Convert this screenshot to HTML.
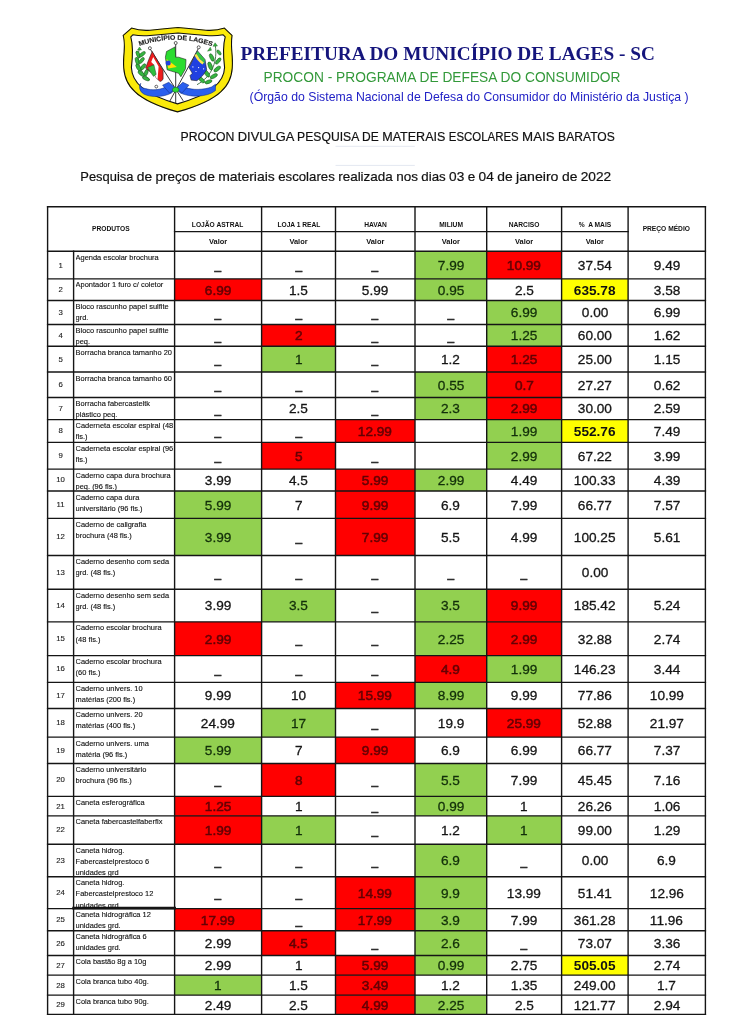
<!DOCTYPE html>
<html lang="pt-BR">
<head>
<meta charset="utf-8">
<title>PROCON - Pesquisa de preços de materiais escolares</title>
<style>
html,body{margin:0;padding:0;background:#fff}
body{width:741px;height:1024px;position:relative;overflow:hidden;font-family:"Liberation Sans",sans-serif;color:#1a1a1a}
svg{position:absolute;left:0;top:0;overflow:visible}
.hd text{font-family:"Liberation Sans",sans-serif}
.hd .t1{font-family:"Liberation Serif",serif;font-weight:bold;font-size:18.4px;fill:#15157c}
.hd .t2{font-size:13.8px;fill:#33993a}
.hd .t3{font-size:12.6px;fill:#2222c6}
.hd .t4{font-size:13.2px;fill:#111;stroke:#111;stroke-width:.2px}
.hd .t5{font-size:13.4px;fill:#111;stroke:#111;stroke-width:.2px}
.c{position:absolute;display:flex;align-items:center;justify-content:center;white-space:nowrap;line-height:1}
.r{position:absolute;left:0;width:741px}
.r .c{top:0.65px;height:100%}
.h{font-weight:bold;font-size:7.4px;color:#111}
.h span{display:inline-block;transform:scaleX(.9)}
.v{font-weight:bold;font-size:7.45px;color:#111}
.n{font-size:7.8px;left:47.6px;width:26px;color:#222;-webkit-text-stroke:.12px}
.p{position:absolute;left:75.6px;top:0.6px;width:98px;bottom:0.6px;overflow:hidden;font-size:7.45px;line-height:11.1px;white-space:nowrap;color:#111;-webkit-text-stroke:.12px}
.d{font-size:13.5px;color:#151515;-webkit-text-stroke:.3px}
.d span{display:inline-block;transform:scaleX(1.01)}
.r .n{top:0.35px}
.r .d.u{top:0;-webkit-text-stroke:.45px}
.d.u span{transform:scaleX(.88)}
.d.r{color:#640004;-webkit-text-stroke:.55px}
.d.g{color:#13300a}
.d.y{font-weight:bold;color:#111;-webkit-text-stroke:0}
.k0{left:174.6px;width:87px}
.k1{left:261.6px;width:73.9px}
.k2{left:335.5px;width:79.5px}
.k3{left:415px;width:71.7px}
.k4{left:486.7px;width:74.9px}
.k5{left:561.6px;width:66.5px}
.k6{left:628.1px;width:77.3px}
</style>
</head>
<body>
<!-- grid + coloured cells -->
<svg width="741" height="1024" viewBox="0 0 741 1024">
<g stroke="#e4e8f1" stroke-width="1"><line x1="335.5" y1="146.3" x2="414.8" y2="146.3"/><line x1="335.5" y1="165.4" x2="414.8" y2="165.4"/></g>
<rect x="415" y="251.3" width="71.7" height="27.6" fill="#92d050"/>
<rect x="486.7" y="251.3" width="74.9" height="27.6" fill="#ff0000"/>
<rect x="174.6" y="278.9" width="87" height="21.6" fill="#ff0000"/>
<rect x="415" y="278.9" width="71.7" height="21.6" fill="#92d050"/>
<rect x="561.6" y="278.9" width="66.5" height="21.6" fill="#ffff00"/>
<rect x="486.7" y="300.5" width="74.9" height="24" fill="#92d050"/>
<rect x="261.6" y="324.5" width="73.9" height="21.8" fill="#ff0000"/>
<rect x="486.7" y="324.5" width="74.9" height="21.8" fill="#92d050"/>
<rect x="261.6" y="346.3" width="73.9" height="25.7" fill="#92d050"/>
<rect x="486.7" y="346.3" width="74.9" height="25.7" fill="#ff0000"/>
<rect x="415" y="372" width="71.7" height="25.5" fill="#92d050"/>
<rect x="486.7" y="372" width="74.9" height="25.5" fill="#ff0000"/>
<rect x="415" y="397.5" width="71.7" height="22.1" fill="#92d050"/>
<rect x="486.7" y="397.5" width="74.9" height="22.1" fill="#ff0000"/>
<rect x="335.5" y="419.6" width="79.5" height="22.8" fill="#ff0000"/>
<rect x="486.7" y="419.6" width="74.9" height="22.8" fill="#92d050"/>
<rect x="561.6" y="419.6" width="66.5" height="22.8" fill="#ffff00"/>
<rect x="261.6" y="442.4" width="73.9" height="26.7" fill="#ff0000"/>
<rect x="486.7" y="442.4" width="74.9" height="26.7" fill="#92d050"/>
<rect x="335.5" y="469.1" width="79.5" height="21.9" fill="#ff0000"/>
<rect x="415" y="469.1" width="71.7" height="21.9" fill="#92d050"/>
<rect x="174.6" y="491" width="87" height="27.4" fill="#92d050"/>
<rect x="335.5" y="491" width="79.5" height="27.4" fill="#ff0000"/>
<rect x="174.6" y="518.4" width="87" height="37.1" fill="#92d050"/>
<rect x="335.5" y="518.4" width="79.5" height="37.1" fill="#ff0000"/>
<rect x="261.6" y="589.2" width="73.9" height="32.65" fill="#92d050"/>
<rect x="415" y="589.2" width="71.7" height="32.65" fill="#92d050"/>
<rect x="486.7" y="589.2" width="74.9" height="32.65" fill="#ff0000"/>
<rect x="174.6" y="621.85" width="87" height="33.75" fill="#ff0000"/>
<rect x="415" y="621.85" width="71.7" height="33.75" fill="#92d050"/>
<rect x="486.7" y="621.85" width="74.9" height="33.75" fill="#ff0000"/>
<rect x="415" y="655.6" width="71.7" height="26.8" fill="#ff0000"/>
<rect x="486.7" y="655.6" width="74.9" height="26.8" fill="#92d050"/>
<rect x="335.5" y="682.4" width="79.5" height="26.1" fill="#ff0000"/>
<rect x="415" y="682.4" width="71.7" height="26.1" fill="#92d050"/>
<rect x="261.6" y="708.5" width="73.9" height="28.6" fill="#92d050"/>
<rect x="486.7" y="708.5" width="74.9" height="28.6" fill="#ff0000"/>
<rect x="174.6" y="737.1" width="87" height="26.35" fill="#92d050"/>
<rect x="335.5" y="737.1" width="79.5" height="26.35" fill="#ff0000"/>
<rect x="261.6" y="763.45" width="73.9" height="32.95" fill="#ff0000"/>
<rect x="415" y="763.45" width="71.7" height="32.95" fill="#92d050"/>
<rect x="174.6" y="796.4" width="87" height="19.45" fill="#ff0000"/>
<rect x="415" y="796.4" width="71.7" height="19.45" fill="#92d050"/>
<rect x="174.6" y="815.85" width="87" height="28.35" fill="#ff0000"/>
<rect x="261.6" y="815.85" width="73.9" height="28.35" fill="#92d050"/>
<rect x="486.7" y="815.85" width="74.9" height="28.35" fill="#92d050"/>
<rect x="415" y="844.2" width="71.7" height="32.55" fill="#92d050"/>
<rect x="335.5" y="876.75" width="79.5" height="31.85" fill="#ff0000"/>
<rect x="415" y="876.75" width="71.7" height="31.85" fill="#92d050"/>
<rect x="174.6" y="908.6" width="87" height="22.1" fill="#ff0000"/>
<rect x="335.5" y="908.6" width="79.5" height="22.1" fill="#ff0000"/>
<rect x="415" y="908.6" width="71.7" height="22.1" fill="#92d050"/>
<rect x="261.6" y="930.7" width="73.9" height="24.8" fill="#ff0000"/>
<rect x="415" y="930.7" width="71.7" height="24.8" fill="#92d050"/>
<rect x="335.5" y="955.5" width="79.5" height="19.65" fill="#ff0000"/>
<rect x="415" y="955.5" width="71.7" height="19.65" fill="#92d050"/>
<rect x="561.6" y="955.5" width="66.5" height="19.65" fill="#ffff00"/>
<rect x="174.6" y="975.15" width="87" height="20" fill="#92d050"/>
<rect x="335.5" y="975.15" width="79.5" height="20" fill="#ff0000"/>
<rect x="335.5" y="995.15" width="79.5" height="19.25" fill="#ff0000"/>
<rect x="415" y="995.15" width="71.7" height="19.25" fill="#92d050"/>
<g stroke="#151515" stroke-linecap="square">
<line x1="47.6" y1="206.8" x2="47.6" y2="1014.4" stroke-width="1.4"/>
<line x1="73.6" y1="251.3" x2="73.6" y2="1014.4" stroke-width="1.4"/>
<line x1="174.6" y1="206.8" x2="174.6" y2="1014.4" stroke-width="1.4"/>
<line x1="261.6" y1="206.8" x2="261.6" y2="1014.4" stroke-width="1.4"/>
<line x1="335.5" y1="206.8" x2="335.5" y2="1014.4" stroke-width="1.4"/>
<line x1="415" y1="206.8" x2="415" y2="1014.4" stroke-width="1.4"/>
<line x1="486.7" y1="206.8" x2="486.7" y2="1014.4" stroke-width="1.4"/>
<line x1="561.6" y1="206.8" x2="561.6" y2="1014.4" stroke-width="1.4"/>
<line x1="628.1" y1="206.8" x2="628.1" y2="1014.4" stroke-width="1.4"/>
<line x1="705.4" y1="206.8" x2="705.4" y2="1014.4" stroke-width="1.4"/>
<line x1="47.6" y1="206.8" x2="705.4" y2="206.8" stroke-width="1.4"/>
<line x1="174.6" y1="231.6" x2="628.1" y2="231.6" stroke-width="1.4"/>
<line x1="47.6" y1="251.3" x2="705.4" y2="251.3" stroke-width="1.4"/>
<line x1="47.6" y1="278.9" x2="705.4" y2="278.9" stroke-width="1.4"/>
<line x1="47.6" y1="300.5" x2="705.4" y2="300.5" stroke-width="1.4"/>
<line x1="47.6" y1="324.5" x2="705.4" y2="324.5" stroke-width="1.4"/>
<line x1="47.6" y1="346.3" x2="705.4" y2="346.3" stroke-width="1.4"/>
<line x1="47.6" y1="372" x2="705.4" y2="372" stroke-width="1.4"/>
<line x1="47.6" y1="397.5" x2="705.4" y2="397.5" stroke-width="1.4"/>
<line x1="47.6" y1="419.6" x2="705.4" y2="419.6" stroke-width="1.4"/>
<line x1="47.6" y1="442.4" x2="705.4" y2="442.4" stroke-width="1.4"/>
<line x1="47.6" y1="469.1" x2="705.4" y2="469.1" stroke-width="1.4"/>
<line x1="47.6" y1="491" x2="705.4" y2="491" stroke-width="1.4"/>
<line x1="47.6" y1="518.4" x2="705.4" y2="518.4" stroke-width="1.4"/>
<line x1="47.6" y1="555.5" x2="705.4" y2="555.5" stroke-width="1.4"/>
<line x1="47.6" y1="589.2" x2="705.4" y2="589.2" stroke-width="1.4"/>
<line x1="47.6" y1="621.85" x2="705.4" y2="621.85" stroke-width="1.4"/>
<line x1="47.6" y1="655.6" x2="705.4" y2="655.6" stroke-width="1.4"/>
<line x1="47.6" y1="682.4" x2="705.4" y2="682.4" stroke-width="1.4"/>
<line x1="47.6" y1="708.5" x2="705.4" y2="708.5" stroke-width="1.4"/>
<line x1="47.6" y1="737.1" x2="705.4" y2="737.1" stroke-width="1.4"/>
<line x1="47.6" y1="763.45" x2="705.4" y2="763.45" stroke-width="1.4"/>
<line x1="47.6" y1="796.4" x2="705.4" y2="796.4" stroke-width="1.4"/>
<line x1="47.6" y1="815.85" x2="705.4" y2="815.85" stroke-width="1.4"/>
<line x1="47.6" y1="844.2" x2="705.4" y2="844.2" stroke-width="1.4"/>
<line x1="47.6" y1="876.75" x2="705.4" y2="876.75" stroke-width="1.4"/>
<line x1="47.6" y1="908.6" x2="705.4" y2="908.6" stroke-width="1.4"/>
<line x1="47.6" y1="930.7" x2="705.4" y2="930.7" stroke-width="1.4"/>
<line x1="47.6" y1="955.5" x2="705.4" y2="955.5" stroke-width="1.4"/>
<line x1="47.6" y1="975.15" x2="705.4" y2="975.15" stroke-width="1.4"/>
<line x1="47.6" y1="995.15" x2="705.4" y2="995.15" stroke-width="1.4"/>
<line x1="47.6" y1="1014.4" x2="705.4" y2="1014.4" stroke-width="1.4"/>
<line x1="73.6" y1="908.1" x2="174.6" y2="908.1" stroke-width="2.7"/>
</g>
</svg>
<!-- logo -->
<svg width="741" height="130" viewBox="0 0 741 130">
<defs><path id="arc" d="M139.4,46 Q175.3,33.4 211.2,46"/><path id="sho" d="M131.5,27.5 Q140.5,30.5 150,29.7 Q165,28 178,26.9 Q191,28 206,29.7 Q215.5,30.5 224.5,27.5 L232.6,35.2 C231.6,42 232.2,48 232.4,52 C233,58 233.2,62 232.8,68 C231.5,85 222,100.5 177.5,112.4 C134,100.5 124.5,85 123.2,68 C122.8,62 123,58 123.6,52 C123.8,48 124.4,42 122.6,35.2 Z"/><clipPath id="shc"><use href="#sho"/></clipPath></defs>
<g clip-path="url(#shc)"><use href="#sho" fill="#fbea0a" stroke="#111" stroke-width="2.2"/></g>
<path d="M132.8,34.8 Q141,36.3 150,35.5 Q165,34 178,33 Q191,34 206,35.5 Q215,36.3 223.2,34.8 L225.2,36.8 C223,45 223.4,58 224.6,67.6 C224,82 212,94 177.5,103.9 C143,94 132,82 131.4,67.6 C132.6,58 133,45 130.8,36.8 Z" fill="#fff" stroke="#111" stroke-width="1.1" stroke-linejoin="round"/>
<text font-family="Liberation Sans, sans-serif" font-weight="bold" font-size="6.5" fill="#222" stroke="#222" stroke-width=".15"><textPath href="#arc" textLength="74" lengthAdjust="spacingAndGlyphs">MUNICÍPIO DE LAGES</textPath></text>
<!-- laurel branches -->
<g fill="#35b53f" stroke="#1d5a22" stroke-width=".55">
<path d="M139.6,48 C136,60 139,72 150,80" fill="none" stroke-width=".8"/>
<path d="M137.5,50 l4,0 l-2,-3z" stroke-width=".4"/>
<ellipse cx="138.2" cy="54.5" rx="1.68" ry="3.78" transform="rotate(-25 138.2 54.5)"/><ellipse cx="142.3" cy="54.2" rx="1.68" ry="3.66" transform="rotate(50 142.3 54.2)"/>
<ellipse cx="137.2" cy="61" rx="1.80" ry="3.90" transform="rotate(-15 137.2 61)"/><ellipse cx="141.6" cy="60.5" rx="1.68" ry="3.66" transform="rotate(40 141.6 60.5)"/>
<ellipse cx="138.4" cy="67.5" rx="1.80" ry="3.90" transform="rotate(-30 138.4 67.5)"/><ellipse cx="143.2" cy="66.8" rx="1.68" ry="3.54" transform="rotate(35 143.2 66.8)"/>
<ellipse cx="141.3" cy="73.6" rx="1.80" ry="3.90" transform="rotate(-50 141.3 73.6)"/><ellipse cx="146.2" cy="72.6" rx="1.68" ry="3.54" transform="rotate(20 146.2 72.6)"/>
<ellipse cx="146" cy="78.6" rx="1.68" ry="3.78" transform="rotate(-65 146 78.6)"/>
<path d="M215.3,45.7 C217.5,60 213,76 197,84.7" fill="none" stroke-width=".8"/>
<path d="M213,46.3 l4.5,-.3 l-2.4,-3.2z" stroke-width=".4"/><path d="M207.5,51.2 l4,-1 l-1.2,-3z" stroke-width=".4"/>
<ellipse cx="219" cy="52.5" rx="1.44" ry="2.93" transform="rotate(-35 219 52.5)"/>
<ellipse cx="211.8" cy="57.5" rx="1.80" ry="4.03" transform="rotate(-25 211.8 57.5)"/><ellipse cx="218.2" cy="61" rx="1.68" ry="3.78" transform="rotate(40 218.2 61)"/>
<ellipse cx="210.2" cy="66" rx="1.92" ry="4.27" transform="rotate(-20 210.2 66)"/><ellipse cx="217.2" cy="69" rx="1.80" ry="4.03" transform="rotate(50 217.2 69)"/>
<ellipse cx="206.8" cy="73.5" rx="1.92" ry="4.15" transform="rotate(-35 206.8 73.5)"/><ellipse cx="213.8" cy="76.2" rx="1.80" ry="4.03" transform="rotate(60 213.8 76.2)"/>
<ellipse cx="201.5" cy="79.8" rx="1.80" ry="4.03" transform="rotate(-45 201.5 79.8)"/><ellipse cx="208.5" cy="81.8" rx="1.68" ry="3.66" transform="rotate(70 208.5 81.8)"/>
</g>
<!-- poles -->
<g stroke="#222" stroke-width=".9" fill="none">
<line x1="150.2" y1="49" x2="183.2" y2="100.8"/><line x1="175.7" y1="44" x2="175.7" y2="103"/><line x1="198.4" y1="48.5" x2="169.4" y2="101.9"/>
</g>
<!-- left flag -->
<g stroke="#222" stroke-width=".6" stroke-linejoin="round">
<path d="M152.2,51.5 L163.1,70.4 L163.1,79 Q161.5,82 159.7,81.3 L156.2,77.8 L154.5,74.4 L149.9,71.5 L145.6,68.1 L148.8,59.5 Z" fill="#ee1c1c"/>
<path d="M153.2,57 L158.6,66.5 L157.6,79 L156.2,77.8 L154.5,74.4 L152,72.6 L153.9,64.7 L151.2,62 Z" fill="#fff" stroke="none"/>
<path d="M147.4,67.6 L153.9,64.7 L156.2,74.4 L153.5,76.4 L149.9,71.5 Z" fill="#2fbe3e" stroke-width=".4"/>
<!-- centre flag -->
<path d="M175.1,46.9 L166.5,51.5 L165.4,57.2 L167.1,69.8 L178.6,73.3 L180.9,76.7 L185.5,68.7 L186,59.5 L178.6,57.2 L175.7,57.2 Z" fill="#2bdc30"/>
<path d="M166.5,58.9 L176.8,66.9 L168.3,68.4 Z" fill="#ffe100" stroke="none"/>
<circle cx="168.2" cy="62.9" r="2.5" fill="#2040e0" stroke="none"/>
<!-- right flag -->
<path d="M197.5,50.9 L205,59.5 L206.7,69.8 L202.7,75.6 L196.9,80.7 L191.2,80.1 L190,75.6 L192.3,73.3 L188.9,67.5 Z" fill="#2040e0"/>
<path d="M197.6,51.2 L204.9,59.6 L204.3,64 L196,53.8 Z" fill="#35c53f" stroke="none"/>
<path d="M195.5,54.6 C197.5,59 200,61.5 203.2,63.6" fill="none" stroke="#ffe94a" stroke-width="2.4"/>
</g>
<g fill="#fff"><circle cx="192.9" cy="66.9" r=".65"/><circle cx="198.6" cy="67.6" r=".65"/><circle cx="203.6" cy="68.8" r=".65"/><circle cx="196" cy="71.5" r=".55"/></g>
<g fill="#fff" stroke="#222" stroke-width=".7"><circle cx="149.9" cy="48.2" r="1.5"/><circle cx="175.7" cy="43" r="1.5"/><circle cx="198.7" cy="47.3" r="1.5"/><circle cx="156.3" cy="86.6" r="1.4"/></g>
<!-- ribbon -->
<g fill="#2a5fee" stroke="#12328c" stroke-width=".6" stroke-linejoin="round">
<path d="M140.7,83.4 C139.5,86 141.5,88 145.5,88.6 C152,90.6 159,90 164.5,87.6 L171.5,85.8 L175,89.5 L171.4,93 C163,97.6 150,97.4 143.8,94 C139.3,91.2 138.6,86 140.7,83.4 Z"/>
<path d="M162.6,85.2 L168.8,82.3 L175.8,88.5 L169.6,93.1 Z"/>
<path d="M179.5,85.8 L186,87.6 C192,90.2 204,90 211.5,87 L215.5,84.2 L215.4,90.6 C207,97.4 190,97.6 180.5,93 L176.5,89.6 Z"/>
<path d="M188.9,85.2 L182.8,82.3 L176.3,88.5 L181.9,93.1 Z"/>
</g>
<ellipse cx="175.7" cy="89.8" rx="3.3" ry="2.5" fill="#2bdc30" stroke="#1d5a22" stroke-width=".5"/>

</svg>
<!-- headings -->
<svg class="hd" width="741" height="200" viewBox="0 0 741 200">
<text class="t1" x="240.4" y="60.1" textLength="414.5" lengthAdjust="spacingAndGlyphs">PREFEITURA DO MUNICÍPIO DE LAGES - SC</text>
<text class="t2" x="263.5" y="81.6" textLength="357" lengthAdjust="spacingAndGlyphs">PROCON - PROGRAMA DE DEFESA DO CONSUMIDOR</text>
<text class="t3" x="249.6" y="101.3" textLength="439" lengthAdjust="spacingAndGlyphs">(Órgão do Sistema Nacional de Defesa do Consumidor do Ministério da Justiça )</text>
<text class="t4" y="140.6"><tspan x="180.6" textLength="53.8" lengthAdjust="spacingAndGlyphs">PROCON</tspan> <tspan x="237.8" textLength="55.9" lengthAdjust="spacingAndGlyphs">DIVULGA</tspan> <tspan x="297.1" textLength="61.5" lengthAdjust="spacingAndGlyphs">PESQUISA</tspan> <tspan x="362" textLength="16.7" lengthAdjust="spacingAndGlyphs">DE</tspan> <tspan x="382.2" textLength="63.2" lengthAdjust="spacingAndGlyphs">MATERAIS</tspan> <tspan x="448.8" textLength="69.9" lengthAdjust="spacingAndGlyphs">ESCOLARES</tspan> <tspan x="522.1" textLength="32.5" lengthAdjust="spacingAndGlyphs">MAIS</tspan> <tspan x="558.1" textLength="56.7" lengthAdjust="spacingAndGlyphs">BARATOS</tspan></text>
<text class="t5" y="181.4"><tspan x="80.3" textLength="53.1" lengthAdjust="spacingAndGlyphs">Pesquisa</tspan> <tspan x="136.8" textLength="15.4" lengthAdjust="spacingAndGlyphs">de</tspan> <tspan x="155.6" textLength="40.4" lengthAdjust="spacingAndGlyphs">preços</tspan> <tspan x="199.5" textLength="15.4" lengthAdjust="spacingAndGlyphs">de</tspan> <tspan x="218.2" textLength="56.6" lengthAdjust="spacingAndGlyphs">materiais</tspan> <tspan x="278.2" textLength="56.6" lengthAdjust="spacingAndGlyphs">escolares</tspan> <tspan x="338.2" textLength="54.6" lengthAdjust="spacingAndGlyphs">realizada</tspan> <tspan x="396.2" textLength="21.7" lengthAdjust="spacingAndGlyphs">nos</tspan> <tspan x="421.3" textLength="24.4" lengthAdjust="spacingAndGlyphs">dias</tspan> <tspan x="449.1" textLength="15.2" lengthAdjust="spacingAndGlyphs">03</tspan> <tspan x="467.7" textLength="7.5" lengthAdjust="spacingAndGlyphs">e</tspan> <tspan x="478.6" textLength="15.2" lengthAdjust="spacingAndGlyphs">04</tspan> <tspan x="497.2" textLength="15.4" lengthAdjust="spacingAndGlyphs">de</tspan> <tspan x="516" textLength="42.5" lengthAdjust="spacingAndGlyphs">janeiro</tspan> <tspan x="562" textLength="15.4" lengthAdjust="spacingAndGlyphs">de</tspan> <tspan x="580.7" textLength="30.5" lengthAdjust="spacingAndGlyphs">2022</tspan></text>
</svg>
<div class="c h" style="left:47.6px;top:206.3px;width:127px;height:44.5px"><span>PRODUTOS</span></div>
<div class="c h" style="left:174.6px;top:212.2px;width:87px;height:24.8px"><span>LOJÃO ASTRAL</span></div>
<div class="c v" style="left:174.6px;top:232px;width:87px;height:19.7px"><span>Valor</span></div>
<div class="c h" style="left:261.6px;top:212.2px;width:73.9px;height:24.8px"><span>LOJA 1 REAL</span></div>
<div class="c v" style="left:261.6px;top:232px;width:73.9px;height:19.7px"><span>Valor</span></div>
<div class="c h" style="left:335.5px;top:212.2px;width:79.5px;height:24.8px"><span>HAVAN</span></div>
<div class="c v" style="left:335.5px;top:232px;width:79.5px;height:19.7px"><span>Valor</span></div>
<div class="c h" style="left:415px;top:212.2px;width:71.7px;height:24.8px"><span>MILIUM</span></div>
<div class="c v" style="left:415px;top:232px;width:71.7px;height:19.7px"><span>Valor</span></div>
<div class="c h" style="left:486.7px;top:212.2px;width:74.9px;height:24.8px"><span>NARCISO</span></div>
<div class="c v" style="left:486.7px;top:232px;width:74.9px;height:19.7px"><span>Valor</span></div>
<div class="c h" style="left:561.6px;top:212.2px;width:66.5px;height:24.8px"><span>%&nbsp; A MAIS</span></div>
<div class="c v" style="left:561.6px;top:232px;width:66.5px;height:19.7px"><span>Valor</span></div>
<div class="c h" style="left:628.1px;top:206.3px;width:77.3px;height:44.5px"><span>PREÇO MÉDIO</span></div>
<div class="r" style="top:251.3px;height:27.6px"><div class="c n"><span>1</span></div><div class="p">Agenda escolar brochura</div><div class="c d k0 u"><span>_</span></div><div class="c d k1 u"><span>_</span></div><div class="c d k2 u"><span>_</span></div><div class="c d k3 g"><span>7.99</span></div><div class="c d k4 r"><span>10.99</span></div><div class="c d k5"><span>37.54</span></div><div class="c d k6"><span>9.49</span></div></div>
<div class="r" style="top:278.9px;height:21.6px"><div class="c n"><span>2</span></div><div class="p">Apontador 1 furo c/ coletor</div><div class="c d k0 r"><span>6.99</span></div><div class="c d k1"><span>1.5</span></div><div class="c d k2"><span>5.99</span></div><div class="c d k3 g"><span>0.95</span></div><div class="c d k4"><span>2.5</span></div><div class="c d k5 y"><span>635.78</span></div><div class="c d k6"><span>3.58</span></div></div>
<div class="r" style="top:300.5px;height:24px"><div class="c n"><span>3</span></div><div class="p">Bloco rascunho papel sulfite<br>grd.</div><div class="c d k0 u"><span>_</span></div><div class="c d k1 u"><span>_</span></div><div class="c d k2 u"><span>_</span></div><div class="c d k3 u"><span>_</span></div><div class="c d k4 g"><span>6.99</span></div><div class="c d k5"><span>0.00</span></div><div class="c d k6"><span>6.99</span></div></div>
<div class="r" style="top:324.5px;height:21.8px"><div class="c n"><span>4</span></div><div class="p">Bloco rascunho papel sulfite<br>peq.</div><div class="c d k0 u"><span>_</span></div><div class="c d k1 r"><span>2</span></div><div class="c d k2 u"><span>_</span></div><div class="c d k3 u"><span>_</span></div><div class="c d k4 g"><span>1.25</span></div><div class="c d k5"><span>60.00</span></div><div class="c d k6"><span>1.62</span></div></div>
<div class="r" style="top:346.3px;height:25.7px"><div class="c n"><span>5</span></div><div class="p">Borracha branca tamanho 20</div><div class="c d k0 u"><span>_</span></div><div class="c d k1 g"><span>1</span></div><div class="c d k2 u"><span>_</span></div><div class="c d k3"><span>1.2</span></div><div class="c d k4 r"><span>1.25</span></div><div class="c d k5"><span>25.00</span></div><div class="c d k6"><span>1.15</span></div></div>
<div class="r" style="top:372px;height:25.5px"><div class="c n"><span>6</span></div><div class="p">Borracha branca tamanho 60</div><div class="c d k0 u"><span>_</span></div><div class="c d k1 u"><span>_</span></div><div class="c d k2 u"><span>_</span></div><div class="c d k3 g"><span>0.55</span></div><div class="c d k4 r"><span>0.7</span></div><div class="c d k5"><span>27.27</span></div><div class="c d k6"><span>0.62</span></div></div>
<div class="r" style="top:397.5px;height:22.1px"><div class="c n"><span>7</span></div><div class="p">Borracha fabercasteltk<br>plástico peq.</div><div class="c d k0 u"><span>_</span></div><div class="c d k1"><span>2.5</span></div><div class="c d k2 u"><span>_</span></div><div class="c d k3 g"><span>2.3</span></div><div class="c d k4 r"><span>2.99</span></div><div class="c d k5"><span>30.00</span></div><div class="c d k6"><span>2.59</span></div></div>
<div class="r" style="top:419.6px;height:22.8px"><div class="c n"><span>8</span></div><div class="p">Caderneta escolar espiral (48<br>fls.)</div><div class="c d k0 u"><span>_</span></div><div class="c d k1 u"><span>_</span></div><div class="c d k2 r"><span>12.99</span></div><div class="c d k4 g"><span>1.99</span></div><div class="c d k5 y"><span>552.76</span></div><div class="c d k6"><span>7.49</span></div></div>
<div class="r" style="top:442.4px;height:26.7px"><div class="c n"><span>9</span></div><div class="p">Caderneta escolar espiral (96<br>fls.)</div><div class="c d k0 u"><span>_</span></div><div class="c d k1 r"><span>5</span></div><div class="c d k2 u"><span>_</span></div><div class="c d k4 g"><span>2.99</span></div><div class="c d k5"><span>67.22</span></div><div class="c d k6"><span>3.99</span></div></div>
<div class="r" style="top:469.1px;height:21.9px"><div class="c n"><span>10</span></div><div class="p">Caderno capa dura brochura<br>peq. (96 fls.)</div><div class="c d k0"><span>3.99</span></div><div class="c d k1"><span>4.5</span></div><div class="c d k2 r"><span>5.99</span></div><div class="c d k3 g"><span>2.99</span></div><div class="c d k4"><span>4.49</span></div><div class="c d k5"><span>100.33</span></div><div class="c d k6"><span>4.39</span></div></div>
<div class="r" style="top:491px;height:27.4px"><div class="c n"><span>11</span></div><div class="p">Caderno capa dura<br>universitário (96 fls.)</div><div class="c d k0 g"><span>5.99</span></div><div class="c d k1"><span>7</span></div><div class="c d k2 r"><span>9.99</span></div><div class="c d k3"><span>6.9</span></div><div class="c d k4"><span>7.99</span></div><div class="c d k5"><span>66.77</span></div><div class="c d k6"><span>7.57</span></div></div>
<div class="r" style="top:518.4px;height:37.1px"><div class="c n"><span>12</span></div><div class="p">Caderno de caligrafia<br>brochura (48 fls.)</div><div class="c d k0 g"><span>3.99</span></div><div class="c d k1 u"><span>_</span></div><div class="c d k2 r"><span>7.99</span></div><div class="c d k3"><span>5.5</span></div><div class="c d k4"><span>4.99</span></div><div class="c d k5"><span>100.25</span></div><div class="c d k6"><span>5.61</span></div></div>
<div class="r" style="top:555.5px;height:33.7px"><div class="c n"><span>13</span></div><div class="p">Caderno desenho com seda<br>grd. (48 fls.)</div><div class="c d k0 u"><span>_</span></div><div class="c d k1 u"><span>_</span></div><div class="c d k2 u"><span>_</span></div><div class="c d k3 u"><span>_</span></div><div class="c d k4 u"><span>_</span></div><div class="c d k5"><span>0.00</span></div></div>
<div class="r" style="top:589.2px;height:32.65px"><div class="c n"><span>14</span></div><div class="p">Caderno desenho sem seda<br>grd. (48 fls.)</div><div class="c d k0"><span>3.99</span></div><div class="c d k1 g"><span>3.5</span></div><div class="c d k2 u"><span>_</span></div><div class="c d k3 g"><span>3.5</span></div><div class="c d k4 r"><span>9.99</span></div><div class="c d k5"><span>185.42</span></div><div class="c d k6"><span>5.24</span></div></div>
<div class="r" style="top:621.85px;height:33.75px"><div class="c n"><span>15</span></div><div class="p">Caderno escolar brochura<br>(48 fls.)</div><div class="c d k0 r"><span>2.99</span></div><div class="c d k1 u"><span>_</span></div><div class="c d k2 u"><span>_</span></div><div class="c d k3 g"><span>2.25</span></div><div class="c d k4 r"><span>2.99</span></div><div class="c d k5"><span>32.88</span></div><div class="c d k6"><span>2.74</span></div></div>
<div class="r" style="top:655.6px;height:26.8px"><div class="c n"><span>16</span></div><div class="p">Caderno escolar brochura<br>(60 fls.)</div><div class="c d k0 u"><span>_</span></div><div class="c d k1 u"><span>_</span></div><div class="c d k2 u"><span>_</span></div><div class="c d k3 r"><span>4.9</span></div><div class="c d k4 g"><span>1.99</span></div><div class="c d k5"><span>146.23</span></div><div class="c d k6"><span>3.44</span></div></div>
<div class="r" style="top:682.4px;height:26.1px"><div class="c n"><span>17</span></div><div class="p">Caderno univers. 10<br>matérias (200 fls.)</div><div class="c d k0"><span>9.99</span></div><div class="c d k1"><span>10</span></div><div class="c d k2 r"><span>15.99</span></div><div class="c d k3 g"><span>8.99</span></div><div class="c d k4"><span>9.99</span></div><div class="c d k5"><span>77.86</span></div><div class="c d k6"><span>10.99</span></div></div>
<div class="r" style="top:708.5px;height:28.6px"><div class="c n"><span>18</span></div><div class="p">Caderno univers. 20<br>matérias (400 fls.)</div><div class="c d k0"><span>24.99</span></div><div class="c d k1 g"><span>17</span></div><div class="c d k2 u"><span>_</span></div><div class="c d k3"><span>19.9</span></div><div class="c d k4 r"><span>25.99</span></div><div class="c d k5"><span>52.88</span></div><div class="c d k6"><span>21.97</span></div></div>
<div class="r" style="top:737.1px;height:26.35px"><div class="c n"><span>19</span></div><div class="p">Caderno univers. uma<br>matéria (96 fls.)</div><div class="c d k0 g"><span>5.99</span></div><div class="c d k1"><span>7</span></div><div class="c d k2 r"><span>9.99</span></div><div class="c d k3"><span>6.9</span></div><div class="c d k4"><span>6.99</span></div><div class="c d k5"><span>66.77</span></div><div class="c d k6"><span>7.37</span></div></div>
<div class="r" style="top:763.45px;height:32.95px"><div class="c n"><span>20</span></div><div class="p">Caderno universitário<br>brochura (96 fls.)</div><div class="c d k0 u"><span>_</span></div><div class="c d k1 r"><span>8</span></div><div class="c d k2 u"><span>_</span></div><div class="c d k3 g"><span>5.5</span></div><div class="c d k4"><span>7.99</span></div><div class="c d k5"><span>45.45</span></div><div class="c d k6"><span>7.16</span></div></div>
<div class="r" style="top:796.4px;height:19.45px"><div class="c n"><span>21</span></div><div class="p">Caneta esferográfica</div><div class="c d k0 r"><span>1.25</span></div><div class="c d k1"><span>1</span></div><div class="c d k2 u"><span>_</span></div><div class="c d k3 g"><span>0.99</span></div><div class="c d k4"><span>1</span></div><div class="c d k5"><span>26.26</span></div><div class="c d k6"><span>1.06</span></div></div>
<div class="r" style="top:815.85px;height:28.35px"><div class="c n"><span>22</span></div><div class="p">Caneta fabercastelfaberfix</div><div class="c d k0 r"><span>1.99</span></div><div class="c d k1 g"><span>1</span></div><div class="c d k2 u"><span>_</span></div><div class="c d k3"><span>1.2</span></div><div class="c d k4 g"><span>1</span></div><div class="c d k5"><span>99.00</span></div><div class="c d k6"><span>1.29</span></div></div>
<div class="r" style="top:844.2px;height:32.55px"><div class="c n"><span>23</span></div><div class="p">Caneta hidrog.<br>Fabercastelprestoco 6<br>unidades grd</div><div class="c d k0 u"><span>_</span></div><div class="c d k1 u"><span>_</span></div><div class="c d k2 u"><span>_</span></div><div class="c d k3 g"><span>6.9</span></div><div class="c d k4 u"><span>_</span></div><div class="c d k5"><span>0.00</span></div><div class="c d k6"><span>6.9</span></div></div>
<div class="r" style="top:876.75px;height:31.85px"><div class="c n"><span>24</span></div><div class="p">Caneta hidrog.<br>Fabercastelprestoco 12<br>unidades grd</div><div class="c d k0 u"><span>_</span></div><div class="c d k1 u"><span>_</span></div><div class="c d k2 r"><span>14.99</span></div><div class="c d k3 g"><span>9.9</span></div><div class="c d k4"><span>13.99</span></div><div class="c d k5"><span>51.41</span></div><div class="c d k6"><span>12.96</span></div></div>
<div class="r" style="top:908.6px;height:22.1px"><div class="c n"><span>25</span></div><div class="p">Caneta hidrográfica 12<br>unidades grd.</div><div class="c d k0 r"><span>17.99</span></div><div class="c d k1 u"><span>_</span></div><div class="c d k2 r"><span>17.99</span></div><div class="c d k3 g"><span>3.9</span></div><div class="c d k4"><span>7.99</span></div><div class="c d k5"><span>361.28</span></div><div class="c d k6"><span>11.96</span></div></div>
<div class="r" style="top:930.7px;height:24.8px"><div class="c n"><span>26</span></div><div class="p">Caneta hidrográfica 6<br>unidades grd.</div><div class="c d k0"><span>2.99</span></div><div class="c d k1 r"><span>4.5</span></div><div class="c d k2 u"><span>_</span></div><div class="c d k3 g"><span>2.6</span></div><div class="c d k4 u"><span>_</span></div><div class="c d k5"><span>73.07</span></div><div class="c d k6"><span>3.36</span></div></div>
<div class="r" style="top:955.5px;height:19.65px"><div class="c n"><span>27</span></div><div class="p">Cola bastão 8g a 10g</div><div class="c d k0"><span>2.99</span></div><div class="c d k1"><span>1</span></div><div class="c d k2 r"><span>5.99</span></div><div class="c d k3 g"><span>0.99</span></div><div class="c d k4"><span>2.75</span></div><div class="c d k5 y"><span>505.05</span></div><div class="c d k6"><span>2.74</span></div></div>
<div class="r" style="top:975.15px;height:20px"><div class="c n"><span>28</span></div><div class="p">Cola branca tubo 40g.</div><div class="c d k0 g"><span>1</span></div><div class="c d k1"><span>1.5</span></div><div class="c d k2 r"><span>3.49</span></div><div class="c d k3"><span>1.2</span></div><div class="c d k4"><span>1.35</span></div><div class="c d k5"><span>249.00</span></div><div class="c d k6"><span>1.7</span></div></div>
<div class="r" style="top:995.15px;height:19.25px"><div class="c n"><span>29</span></div><div class="p">Cola branca tubo 90g.</div><div class="c d k0"><span>2.49</span></div><div class="c d k1"><span>2.5</span></div><div class="c d k2 r"><span>4.99</span></div><div class="c d k3 g"><span>2.25</span></div><div class="c d k4"><span>2.5</span></div><div class="c d k5"><span>121.77</span></div><div class="c d k6"><span>2.94</span></div></div>
</body>
</html>
